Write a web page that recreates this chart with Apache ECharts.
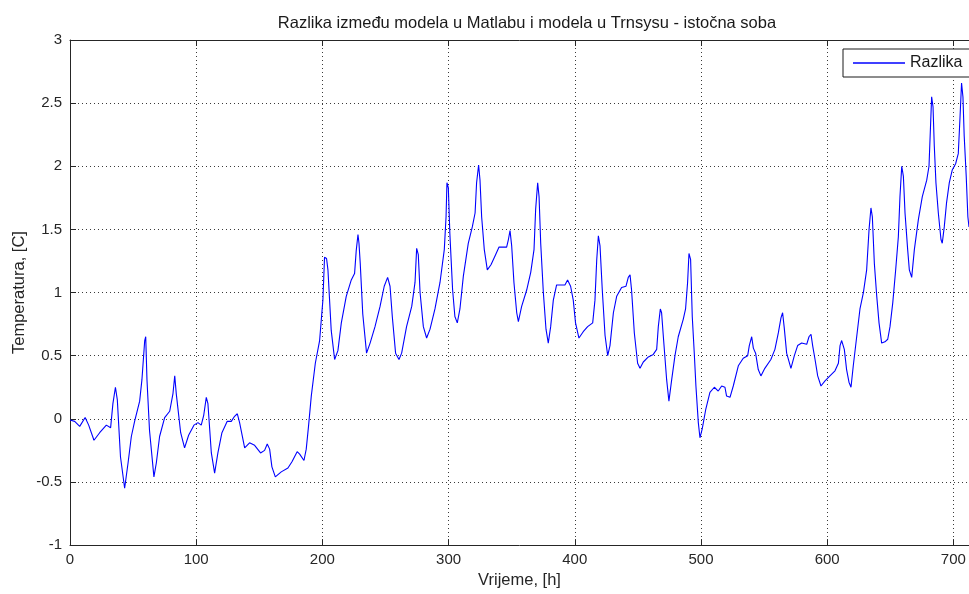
<!DOCTYPE html>
<html>
<head>
<meta charset="utf-8">
<script src="https://cdn.jsdelivr.net/npm/echarts@6/dist/echarts.min.js"></script>
<style>
  html, body { margin: 0; padding: 0; background: #fff; }
  #chart { width: 969px; height: 594px; }
</style>
</head>
<body>
<div id="chart"></div>
<script>
// Simulation time [h]
const hours = [
  0, 3.7, 7.7, 12, 14.8, 19, 23.5, 28.8, 32.2, 34, 36, 37.5, 40, 43.3, 46, 48.6, 51.2, 55.2, 57, 59.2,
  60, 61, 63, 66.5, 68.4, 71, 75, 79, 81.6, 83, 84.2, 87.7, 90.8, 94, 98.2, 101.4, 104, 106, 108, 109.3,
  112, 114.6, 117.2, 120.4, 124.6, 127.8, 130.4, 132.6, 134.4, 138.4, 142.3, 146.3, 151, 154.2, 156.3, 158.2, 160, 162.7, 167.4, 172.7,
  175.9, 180, 182, 183.3, 185.4, 187.2, 189, 191.2, 194.4, 197.8, 200.4, 201.7, 203.3, 204.4, 207, 209.7, 212.3, 215, 218.9, 222.9,
  225.5, 226.8, 228.2, 229, 230, 232, 235, 237.8, 241.7, 245.7, 249, 251.7, 253.6, 255.4, 258, 260.7, 262.8, 266.7, 270.8, 273.4,
  274.7, 276, 277.4, 280, 282.6, 285.3, 289.2, 293.2, 296.6, 298, 298.7, 299.8, 301, 303.2, 305, 306.9, 309, 311.7, 315.6, 318.8,
  321, 322.2, 323.8, 324.9, 326.2, 328.3, 330.7, 333.6, 336.8, 340, 343.4, 346, 347.4, 348.7, 350, 351.8, 354, 355.3, 357.9, 361.9,
  365.1, 367.7, 369, 370.6, 371.7, 373, 375.1, 377.2, 379, 380.9, 383, 385.6, 389.6, 392.2, 394.3, 396.7, 398.8, 400.6, 403.3, 406.7,
  410.2, 414.2, 416, 417.4, 418.7, 420, 421.8, 424, 426.1, 427.9, 430.6, 433.2, 437.1, 440.6, 442.4, 443.8, 445, 447.2, 449.8, 451.7,
  454.3, 458.3, 462.2, 464.9, 466.2, 467.8, 468.8, 470.2, 472.8, 474.6, 476.8, 479.4, 482, 486, 487.8, 489.4, 490.5, 491.8, 493.1, 494.7,
  496, 497.9, 499.2, 501, 503.7, 507.1, 510.6, 513.7, 516.4, 519, 520.3, 523, 525.6, 529.6, 533.5, 537, 538.3, 540.2, 541.5, 543.3,
  545.4, 547.5, 550.6, 555.4, 558.6, 561.3, 563.4, 564.7, 566, 567.9, 571.3, 574, 576.6, 579.8, 583.8, 585.6, 587.2, 588.5, 590.4, 592.5,
  595.1, 598.3, 602.2, 606.2, 608.9, 610.2, 611.5, 613.6, 615.4, 617.3, 618.9, 620.7, 623.4, 626, 628.7, 631.3, 633.2, 634.7, 635.8, 637.4,
  639.3, 641.1, 643.2, 645.8, 648, 649.8, 652, 654.3, 656.4, 657.7, 659.1, 660.4, 661.7, 663.8, 665.1, 667, 669.1, 672.3, 675.4, 678.9,
  680.7, 681.8, 682.8, 683.9, 684.9, 686.2, 688.1, 690.2, 691.2, 692.8, 694.6, 696.8, 699.1, 701.8, 703.9, 705.2, 706.5, 707.6, 708.6, 710.2,
  711.5, 712.4
];

// Temperature difference, Matlab model minus Trnsys model [C]
const razlika = [
  -0.01, -0.02, -0.06, 0.01, -0.05, -0.17, -0.11, -0.05, -0.07, 0.12, 0.25, 0.15, -0.30, -0.55, -0.35, -0.14, -0.02, 0.14, 0.31, 0.62,
  0.65, 0.31, -0.09, -0.46, -0.35, -0.14, 0.01, 0.06, 0.20, 0.34, 0.20, -0.11, -0.23, -0.13, -0.05, -0.03, -0.05, 0.03, 0.17, 0.12,
  -0.27, -0.43, -0.27, -0.11, -0.02, -0.02, 0.02, 0.04, -0.03, -0.23, -0.19, -0.21, -0.27, -0.25, -0.20, -0.24, -0.38, -0.46, -0.42, -0.39,
  -0.34, -0.26, -0.28, -0.27, -0.33, -0.24, -0.06, 0.18, 0.44, 0.62, 0.94, 1.28, 1.27, 1.18, 0.70, 0.47, 0.54, 0.76, 0.97, 1.10,
  1.15, 1.33, 1.46, 1.39, 1.23, 0.83, 0.52, 0.60, 0.73, 0.89, 1.05, 1.12, 1.05, 0.81, 0.52, 0.47, 0.52, 0.73, 0.89, 1.08,
  1.35, 1.30, 1.00, 0.73, 0.64, 0.71, 0.87, 1.08, 1.34, 1.60, 1.87, 1.83, 1.47, 1.02, 0.81, 0.76, 0.87, 1.13, 1.39, 1.52,
  1.63, 1.87, 2.01, 1.89, 1.60, 1.34, 1.18, 1.22, 1.29, 1.36, 1.36, 1.36, 1.42, 1.49, 1.37, 1.08, 0.84, 0.77, 0.89, 1.02,
  1.16, 1.34, 1.66, 1.87, 1.76, 1.39, 1.00, 0.71, 0.60, 0.73, 0.94, 1.06, 1.06, 1.06, 1.10, 1.05, 0.94, 0.76, 0.64, 0.69,
  0.73, 0.76, 0.94, 1.26, 1.45, 1.37, 1.02, 0.66, 0.50, 0.58, 0.84, 0.97, 1.04, 1.05, 1.12, 1.14, 1.02, 0.68, 0.44, 0.40,
  0.45, 0.49, 0.51, 0.55, 0.73, 0.87, 0.84, 0.65, 0.31, 0.14, 0.31, 0.50, 0.65, 0.79, 0.87, 1.08, 1.31, 1.26, 0.81, 0.52,
  0.26, -0.03, -0.15, -0.08, 0.07, 0.21, 0.25, 0.22, 0.26, 0.25, 0.18, 0.17, 0.26, 0.42, 0.48, 0.50, 0.58, 0.65, 0.56, 0.52,
  0.39, 0.34, 0.40, 0.47, 0.55, 0.68, 0.80, 0.84, 0.72, 0.52, 0.40, 0.50, 0.58, 0.60, 0.59, 0.65, 0.67, 0.58, 0.47, 0.34,
  0.26, 0.30, 0.34, 0.38, 0.44, 0.58, 0.62, 0.55, 0.39, 0.29, 0.25, 0.42, 0.65, 0.87, 1.00, 1.18, 1.50, 1.67, 1.60, 1.23,
  0.97, 0.76, 0.60, 0.61, 0.63, 0.73, 0.92, 1.18, 1.44, 1.76, 2.00, 1.92, 1.63, 1.34, 1.18, 1.12, 1.34, 1.58, 1.76, 1.89,
  2.00, 2.29, 2.55, 2.47, 2.16, 1.87, 1.63, 1.42, 1.39, 1.52, 1.71, 1.87, 1.97, 2.02, 2.10, 2.37, 2.66, 2.55, 2.24, 1.92,
  1.60, 1.52
];

const xTicks = { min: 0, max: 712.4, interval: 100 };
const yTicks = { min: -1, max: 3, interval: 0.5 };

const FONT = 'Liberation Sans, Arial, sans-serif';
const AXIS_COLOR = '#262626';

const chart = echarts.init(document.getElementById('chart'), null, { renderer: 'canvas' });

const seriesData = hours.map((h, i) => [h, razlika[i]]);

chart.setOption({
  animation: false,
  backgroundColor: '#ffffff',
  title: {
    text: 'Razlika između modela u Matlabu i modela u Trnsysu - istočna soba',
    left: 522,
    textAlign: 'center',
    top: 10,
    textStyle: { fontFamily: FONT, fontSize: 16.5, fontWeight: 'normal', color: '#1a1a1a' }
  },
  legend: {
    left: 843,
    top: 49,
    orient: 'vertical',
    padding: [6, 12, 6, 10],
    backgroundColor: '#ffffff',
    borderColor: '#1a1a1a',
    borderWidth: 1,
    borderRadius: 0,
    itemWidth: 52,
    itemHeight: 1.5,
    itemGap: 0,
    icon: 'rect',
    textStyle: { fontFamily: FONT, fontSize: 16, color: '#1a1a1a', padding: [0, 0, 0, 0] },
    data: ['Razlika']
  },
  grid: { left: 70, right: 0, top: 40, bottom: 48, containLabel: false },
  xAxis: [
    {
      type: 'value',
      position: 'bottom',
      min: xTicks.min, max: xTicks.max, interval: xTicks.interval,
      name: 'Vrijeme, [h]',
      nameLocation: 'middle',
      nameGap: 26,
      nameTextStyle: { fontFamily: FONT, fontSize: 16.5, color: AXIS_COLOR },
      axisLine: { show: true, onZero: false, lineStyle: { color: AXIS_COLOR, width: 1 } },
      axisTick: { show: true, inside: true, length: 6, lineStyle: { color: AXIS_COLOR } },
      axisLabel: {
        fontFamily: FONT, fontSize: 15, color: AXIS_COLOR, margin: 7,
        showMaxLabel: false
      },
      splitLine: { show: true, lineStyle: { color: '#3a3a3a', width: 1, type: [1, 3] } }
    },
    {
      type: 'value',
      position: 'top',
      min: xTicks.min, max: xTicks.max, interval: xTicks.interval,
      axisLine: { show: true, onZero: false, lineStyle: { color: AXIS_COLOR, width: 1 } },
      axisTick: { show: true, inside: true, length: 6, lineStyle: { color: AXIS_COLOR } },
      axisLabel: { show: false },
      splitLine: { show: false }
    }
  ],
  yAxis: {
    type: 'value',
    min: yTicks.min, max: yTicks.max, interval: yTicks.interval,
    name: 'Temperatura, [C]',
    nameLocation: 'middle',
    nameGap: 42,
    nameMoveOverlap: false,
    nameTextStyle: { fontFamily: FONT, fontSize: 16.5, color: AXIS_COLOR },
    axisLine: { show: true, onZero: false, lineStyle: { color: AXIS_COLOR, width: 1 } },
    axisTick: { show: true, inside: true, length: 6, lineStyle: { color: AXIS_COLOR } },
    axisLabel: { fontFamily: FONT, fontSize: 15, color: AXIS_COLOR, margin: 8 },
    splitLine: { show: true, lineStyle: { color: '#3a3a3a', width: 1, type: [1, 3] } }
  },
  series: [
    {
      name: 'Razlika',
      type: 'line',
      xAxisIndex: 0,
      data: seriesData,
      showSymbol: false,
      symbol: 'none',
      smooth: false,
      clip: true,
      color: '#0000ff',
      lineStyle: { color: '#0000ff', width: 1.1 }
    }
  ]
});
</script>
</body>
</html>
